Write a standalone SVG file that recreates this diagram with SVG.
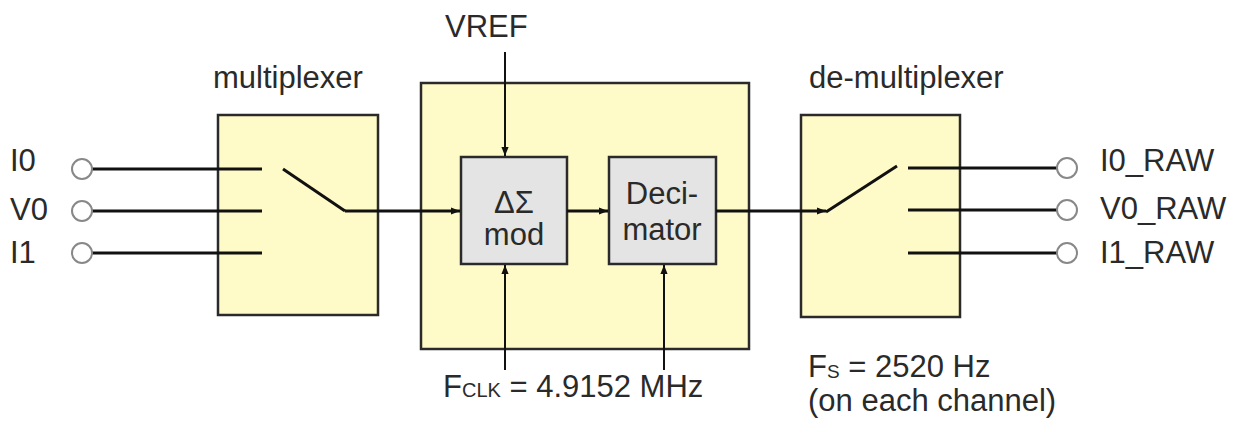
<svg xmlns="http://www.w3.org/2000/svg" width="1237" height="424" viewBox="0 0 1237 424">
<style>
text{font-family:"Liberation Sans",Arial,sans-serif;fill:#2a2a2a;font-size:31px}
.y{fill:#fffbc8;stroke:#2a2a2a;stroke-width:2.5}
.g{fill:#e4e4e4;stroke:#2a2a2a;stroke-width:2.5}
.w{stroke:#111;stroke-width:3;fill:none}
.t{stroke:#111;stroke-width:2;fill:none}
.c{fill:#fff;stroke:#888;stroke-width:2}
</style>
<defs>
<marker id="ah2" viewBox="0 0 10 10" refX="10" refY="5" markerWidth="9" markerHeight="9" markerUnits="userSpaceOnUse" orient="auto"><path d="M0,1L10,5L0,9z" fill="#111"/></marker>
</defs>
<g id="mux">
<rect class="y" x="218" y="115" width="160" height="200"/>
<text x="213" y="88">multiplexer</text>
</g>
<g id="core">
<rect class="y" x="421" y="83" width="328" height="266"/>
</g>
<g id="mod">
<rect class="g" x="461" y="157" width="106" height="107"/>
<text x="514" y="213" text-anchor="middle">ΔΣ</text>
<text x="514" y="245" text-anchor="middle">mod</text>
</g>
<g id="dec">
<rect class="g" x="609" y="157" width="107" height="107"/>
<text x="662" y="204" text-anchor="middle">Deci-</text>
<text x="662" y="240" text-anchor="middle">mator</text>
</g>
<g id="demux">
<rect class="y" x="801" y="115" width="159" height="202"/>
<text x="809" y="88">de-multiplexer</text>
</g>
<g id="inputs">
<text x="10" y="171">I0</text>
<text x="10" y="220">V0</text>
<text x="10" y="263">I1</text>
</g>
<g id="outputs">
<text x="1100" y="171">I0_RAW</text>
<text x="1100" y="219">V0_RAW</text>
<text x="1100" y="263">I1_RAW</text>
</g>
<g id="labels">
<text x="445" y="37">VREF</text>
<text x="443" y="397">F<tspan font-size="20">CLK</tspan> = 4.9152 MHz</text>
<text x="808" y="377">F<tspan font-size="19" dy="1">S</tspan><tspan dy="-1"> = 2520 Hz</tspan></text>
<text x="808" y="411">(on each channel)</text>
</g>
<g id="connectors">
<line class="w" x1="92" y1="169" x2="262" y2="169"/>
<line class="w" x1="92" y1="211" x2="262" y2="211"/>
<line class="w" x1="92" y1="253" x2="262" y2="253"/>
<line class="w" x1="283" y1="169" x2="345" y2="211"/>
<line class="w" x1="345" y1="211" x2="460" y2="211" marker-end="url(#ah2)"/>
<line class="w" x1="567" y1="211" x2="608" y2="211" marker-end="url(#ah2)"/>
<line class="w" x1="716" y1="211" x2="826" y2="211" marker-end="url(#ah2)"/>
<line class="w" x1="826" y1="212" x2="897" y2="166"/>
<line class="w" x1="908" y1="168" x2="1058" y2="168"/>
<line class="w" x1="908" y1="210" x2="1058" y2="210"/>
<line class="w" x1="908" y1="253" x2="1058" y2="253"/>
<line class="t" x1="505" y1="52" x2="505" y2="156" marker-end="url(#ah2)"/>
<line class="t" x1="505" y1="370" x2="505" y2="265" marker-end="url(#ah2)"/>
<line class="t" x1="664" y1="370" x2="664" y2="265" marker-end="url(#ah2)"/>
<circle class="c" cx="82" cy="169" r="10"/>
<circle class="c" cx="82" cy="211" r="10"/>
<circle class="c" cx="82" cy="253" r="10"/>
<circle class="c" cx="1067" cy="168" r="10"/>
<circle class="c" cx="1067" cy="210" r="10"/>
<circle class="c" cx="1067" cy="253" r="10"/>
</g>
</svg>
